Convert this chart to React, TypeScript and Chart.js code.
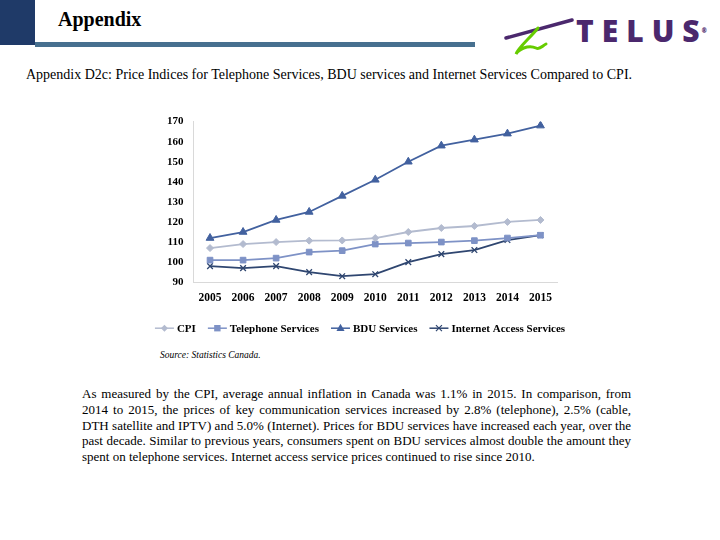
import React, { useEffect, useRef } from "react";
import { Chart, registerables } from "chart.js";

Chart.register(...registerables);

const years = ["2005", "2006", "2007", "2008", "2009", "2010", "2011", "2012", "2013", "2014", "2015"];
const cpi = [107, 109, 110, 110.7, 110.8, 112, 115, 117, 118, 120, 121];
const telephone = [101, 101, 102, 105, 105.7, 109, 109.5, 110, 110.7, 112, 113.4];
const bdu = [112, 115, 121, 125, 133, 141, 150, 158, 161, 164, 168];
const internet = [98, 97, 98, 95, 93, 94, 100, 104, 106, 111, 113.4];
const seriesNames = ["CPI", "Telephone Services", "BDU Services", "Internet Access Services"];
const yTicks = [90, 100, 110, 120, 130, 140, 150, 160, 170];

const SERIF = "'Liberation Serif', 'DejaVu Serif', serif";

function drawPoint(ctx: CanvasRenderingContext2D, style: string, r: number, x: number, y: number, fill: string, stroke: string) {
  ctx.save();
  ctx.fillStyle = fill;
  ctx.strokeStyle = stroke;
  ctx.lineWidth = 1;
  ctx.beginPath();
  if (style === "rectRot") {
    ctx.moveTo(x, y - r);
    ctx.lineTo(x + r, y);
    ctx.lineTo(x, y + r);
    ctx.lineTo(x - r, y);
    ctx.closePath();
    ctx.fill();
  } else if (style === "rect") {
    ctx.rect(x - r * 0.8, y - r * 0.8, r * 1.6, r * 1.6);
    ctx.fill();
  } else if (style === "triangle") {
    ctx.moveTo(x, y - r);
    ctx.lineTo(x + r * 0.9, y + r * 0.6);
    ctx.lineTo(x - r * 0.9, y + r * 0.6);
    ctx.closePath();
    ctx.fill();
  } else {
    ctx.lineWidth = 1.2;
    const d = r * 0.75;
    ctx.moveTo(x - d, y - d);
    ctx.lineTo(x + d, y + d);
    ctx.moveTo(x + d, y - d);
    ctx.lineTo(x - d, y + d);
    ctx.stroke();
  }
  ctx.restore();
}

const legendPlugin = {
  id: "lineLegend",
  afterDraw(chart: any) {
    const ctx = chart.ctx;
    const area = chart.chartArea;
    const y = area.bottom + 46;
    ctx.save();
    ctx.font = `bold 11px ${SERIF}`;
    const lineLen = 19;
    const gap = 3;
    const itemGap = 12;
    const items = chart.data.datasets.map((ds: any) => ({
      ds,
      w: lineLen + gap + ctx.measureText(ds.label).width,
    }));
    const total = items.reduce((s: number, it: any) => s + it.w, 0) + itemGap * (items.length - 1);
    let x = chart.width / 2 - total / 2;
    items.forEach((it: any) => {
      const ds = it.ds;
      ctx.strokeStyle = ds.borderColor;
      ctx.lineWidth = 1.5;
      ctx.beginPath();
      ctx.moveTo(x, y);
      ctx.lineTo(x + lineLen, y);
      ctx.stroke();
      drawPoint(ctx, ds.pointStyle, ds.pointRadius, x + lineLen / 2, y, ds.pointBackgroundColor, ds.pointBorderColor);
      ctx.fillStyle = "#000";
      ctx.textBaseline = "middle";
      ctx.textAlign = "left";
      ctx.fillText(ds.label, x + lineLen + gap, y + 1);
      x += it.w + itemGap;
    });
    ctx.restore();
  },
};

function LineChart() {
  const ref = useRef<HTMLCanvasElement>(null);
  useEffect(() => {
    if (!ref.current) return;
    const mk = (label: string, data: number[], color: string, style: string, r: number) => ({
      label,
      data,
      borderColor: color,
      backgroundColor: color,
      pointBackgroundColor: color,
      pointBorderColor: color,
      pointStyle: style,
      pointRadius: r,
      pointBorderWidth: style === "crossRot" ? 1.3 : 1,
      borderWidth: 1.8,
      tension: 0,
      fill: false,
    });
    const chart = new Chart(ref.current, {
      type: "line",
      data: {
        labels: years,
        datasets: [
          mk(seriesNames[0], cpi, "#b3bbcf", "rectRot", 3.5),
          mk(seriesNames[1], telephone, "#7e92c6", "rect", 4),
          mk(seriesNames[2], bdu, "#42619f", "triangle", 4.5),
          mk(seriesNames[3], internet, "#2f4670", "crossRot", 4),
        ],
      },
      options: {
        animation: false,
        responsive: false,
        maintainAspectRatio: false,
        layout: { padding: { top: 10, left: 7, right: 13, bottom: 31 } },
        plugins: { legend: { display: false }, tooltip: { enabled: false } },
        scales: {
          x: {
            offset: true,
            grid: { display: false, drawTicks: false },
            border: { display: true, color: "#d9d9d9", width: 1 },
            ticks: { color: "#000", font: { family: SERIF, size: 11.5, weight: "bold" }, padding: 9, maxRotation: 0 },
          },
          y: {
            min: 90,
            max: 170,
            afterBuildTicks: (axis: any) => {
              axis.ticks = yTicks.map((v) => ({ value: v }));
            },
            grid: { display: false, drawTicks: false },
            border: { display: true, color: "#d9d9d9", width: 1 },
            ticks: { color: "#000", font: { family: SERIF, size: 11, weight: "bold" }, padding: 10 },
          },
        },
      },
      plugins: [legendPlugin],
    } as any);
    return () => chart.destroy();
  }, []);
  return <canvas ref={ref} width={420} height={240} style={{ position: "absolute", left: 150, top: 105, width: 420, height: 240 }} />;
}

const paraLines = [
  "As measured by the CPI, average annual inflation in Canada was 1.1% in 2015. In comparison, from",
  "2014 to 2015, the prices of key communication services increased by 2.8% (telephone), 2.5% (cable,",
  "DTH satellite and IPTV) and 5.0% (Internet). Prices for BDU services have increased each year, over the",
  "past decade. Similar to previous years, consumers spent on BDU services almost double the amount they",
  "spent on telephone services. Internet access service prices continued to rise since 2010.",
];

export default function App() {
  return (
    <div style={{ position: "fixed", left: 0, top: 0, width: 720, height: 540, background: "#fff", fontFamily: SERIF, overflow: "hidden" }}>
      <div style={{ position: "absolute", left: 0, top: 0, width: 35, height: 45, background: "#1f3a68" }} />
      <div style={{ position: "absolute", left: 35, top: 42, width: 440, height: 5, background: "#47708f" }} />
      <div style={{ position: "absolute", left: 58, top: 7, fontSize: 20, fontWeight: "bold", color: "#000", lineHeight: "24px" }}>Appendix</div>
      <svg style={{ position: "absolute", left: 500, top: 10 }} width={80} height={45}>
        <path d="M6 28 L72 10" stroke="#4b286d" strokeWidth={3.5} strokeLinecap="round" />
        <path d="M38 18 C30 28 18 38 16 44 C18 40 28 34 36 38 C40 40 42 36 46 34" stroke="#66cc00" strokeWidth={3} fill="none" strokeLinecap="round" />
      </svg>
      <div style={{ position: "absolute", left: 576, top: 13, fontSize: 30, fontWeight: 900, color: "#4b286d", fontFamily: "'Open Sans', 'DejaVu Sans', sans-serif", letterSpacing: 8, lineHeight: "36px" }}>
        TELUS<span style={{ fontSize: 6, verticalAlign: "top", letterSpacing: 0, marginLeft: -6 }}>®</span>
      </div>
      <div style={{ position: "absolute", left: 26, top: 66, fontSize: 14, color: "#000", lineHeight: "17px", whiteSpace: "nowrap" }}>
        Appendix D2c: Price Indices for Telephone Services, BDU services and Internet Services Compared to CPI.
      </div>
      <LineChart />
      <div style={{ position: "absolute", left: 160, top: 349, fontSize: 9.5, fontStyle: "italic", color: "#000", lineHeight: "12px" }}>
        Source: Statistics Canada.
      </div>
      <div style={{ position: "absolute", left: 82, top: 386, width: 549, fontSize: 13, color: "#000", lineHeight: "15.8px" }}>
        {paraLines.map((l, i) => (
          <div key={i} style={{ textAlign: "justify", textAlignLast: i < paraLines.length - 1 ? "justify" : "left", whiteSpace: "nowrap" } as any}>
            {l}
          </div>
        ))}
      </div>
    </div>
  );
}
